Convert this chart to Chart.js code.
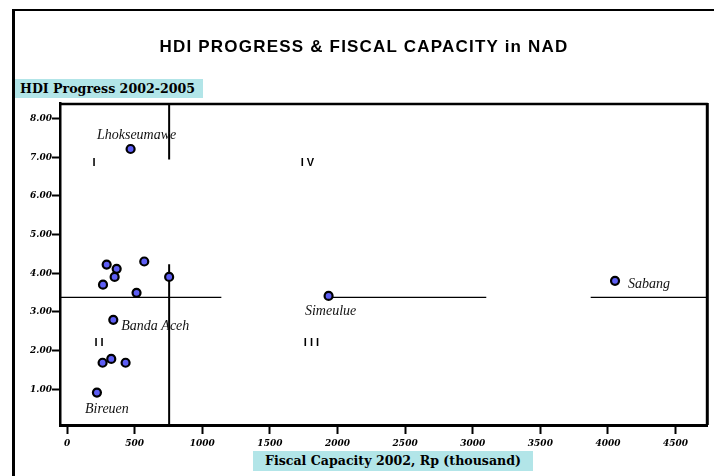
<!DOCTYPE html>
<html>
<head>
<meta charset="utf-8">
<script src="https://cdn.jsdelivr.net/npm/chart.js@4"></script>
<style>
  html, body { margin: 0; padding: 0; background: #fff; }
  #wrap { position: relative; width: 714px; height: 476px; overflow: hidden; background: #fff; }
  #c { position: absolute; left: 0; top: 0; }
  #frame { position: absolute; left: 12px; top: 9px; width: 720px; height: 480px;
           border-top: 2px solid #000; border-left: 3px solid #000; box-sizing: border-box; }
  .title { position: absolute; left: 0; width: 728px; top: 37px; text-align: center;
           font: bold 17px "Liberation Sans", Arial, sans-serif; color: #000; letter-spacing: 1.2px; }
  .axlab { position: absolute; background: #b2e5e8; color: #000;
           font: bold 12.6px "DejaVu Serif", serif; white-space: nowrap; box-sizing: border-box; }
  #ylab { left: 15px; top: 79px; width: 188px; height: 19px; line-height: 19px; padding-left: 5px; }
  #xlab { left: 253px; top: 451px; width: 280px; height: 20px; line-height: 20px; text-align: center; }
</style>
</head>
<body>
<div id="wrap">
  <canvas id="c" width="714" height="476"></canvas>
  <div id="frame"></div>
  <div class="title">HDI PROGRESS &amp; FISCAL CAPACITY in NAD</div>
  <div class="axlab" id="ylab">HDI Progress 2002-2005</div>
  <div class="axlab" id="xlab">Fiscal Capacity 2002, Rp (thousand)</div>
</div>
<script>
// ---- data ----
const districtNames = ['Lhokseumawe','','','','','','','','Banda Aceh','','','','Bireuen','Simeulue','Sabang'];
const fiscalCapacity = [470, 293, 367, 571, 352, 266, 755, 514, 342, 327, 263, 433, 221, 1934, 4052];
const hdiProgress   = [7.21, 4.22, 4.11, 4.30, 3.90, 3.70, 3.90, 3.49, 2.79, 1.78, 1.68, 1.68, 0.91, 3.41, 3.80];

const xTicks = [0, 500, 1000, 1500, 2000, 2500, 3000, 3500, 4000, 4500];
const yTicks = [1, 2, 3, 4, 5, 6, 7, 8];

// reference (threshold) lines
const hdiThreshold = 3.37;
const hdiLineSegments = [[-52, 1141], [1934, 3100], [3872, 4740]];
const fiscalThreshold = 755;
const fiscalLineSegments = [[6.94, 8.4], [0.07, 4.23]];

// quadrant labels
const quadrantNames = ['I', 'IV', 'II', 'III'];
const quadrantFiscal = [199, 1777, 236, 1807];
const quadrantHdi = [6.85, 6.85, 2.20, 2.20];

// ---- styles (label placement offsets in px) ----
const labelStyle = {
  'Lhokseumawe': {dx: 6, dy: -14, align: 'center'},
  'Banda Aceh': {dx: 8, dy: 6, align: 'left'},
  'Bireuen': {dx: 10, dy: 17, align: 'center'},
  'Simeulue': {dx: 2, dy: 15, align: 'center'},
  'Sabang': {dx: 13, dy: 3, align: 'left'}
};

const datasets = [];
hdiLineSegments.forEach(seg => {
  datasets.push({ type: 'line', data: seg.map(x => ({x, y: hdiThreshold})),
    borderColor: '#000', borderWidth: 1.3, pointRadius: 0, showLine: true, order: 2 });
});
fiscalLineSegments.forEach(seg => {
  datasets.push({ type: 'line', data: seg.map(y => ({x: fiscalThreshold, y})),
    borderColor: '#000', borderWidth: 2, pointRadius: 0, showLine: true, order: 2 });
});
datasets.push({
  type: 'scatter',
  data: fiscalCapacity.map((x, i) => ({x, y: hdiProgress[i]})),
  backgroundColor: '#5e5ef4', borderColor: '#000', borderWidth: 2.2,
  pointRadius: 4, order: 1, isDistricts: true
});

const tickFont = { family: "'DejaVu Serif Condensed', 'DejaVu Serif', serif", size: 10, style: 'italic', weight: 'bold' };

const annotPlugin = {
  id: 'annot',
  afterDraw(chart) {
    const ctx = chart.ctx, ca = chart.chartArea;
    // plot frame top & right
    ctx.save();
    ctx.strokeStyle = '#000';
    ctx.lineWidth = 2.5;
    ctx.beginPath();
    ctx.moveTo(ca.left, ca.top + 1); ctx.lineTo(ca.right, ca.top + 1);
    ctx.stroke();
    ctx.lineWidth = 3;
    ctx.beginPath();
    ctx.moveTo(ca.right - 0.5, ca.top); ctx.lineTo(ca.right - 0.5, ca.bottom);
    ctx.stroke();
    // point labels
    const dsIndex = chart.data.datasets.findIndex(d => d.isDistricts);
    const meta = chart.getDatasetMeta(dsIndex);
    ctx.fillStyle = '#111';
    ctx.font = "italic 14px 'Liberation Serif', 'Times New Roman', serif";
    ctx.textBaseline = 'middle';
    districtNames.forEach((n, i) => {
      if (!n) return;
      const st = labelStyle[n];
      const el = meta.data[i];
      ctx.textAlign = st.align;
      ctx.fillText(n, el.x + st.dx, el.y + st.dy);
    });
    // quadrant labels
    const xs = chart.scales.x, ys = chart.scales.y;
    ctx.font = "bold 11px 'Liberation Sans', Arial, sans-serif";
    ctx.textAlign = 'center';
    ctx.letterSpacing = '3px';
    ctx.fillStyle = '#000';
    quadrantNames.forEach((q, i) => {
      ctx.fillText(q, xs.getPixelForValue(quadrantFiscal[i]) + 1.5, ys.getPixelForValue(quadrantHdi[i]));
    });
    ctx.restore();
  }
};

new Chart(document.getElementById('c'), {
  type: 'scatter',
  data: { datasets },
  options: {
    responsive: false,
    animation: false,
    devicePixelRatio: 1,
    layout: { padding: { left: 0, right: 5, top: 103, bottom: 0 } },
    plugins: { legend: { display: false }, tooltip: { enabled: false }, title: { display: false } },
    scales: {
      x: {
        type: 'linear', min: -52, max: 4738,
        afterFit(s) { s.height = 51; },
        afterBuildTicks(s) { s.ticks = xTicks.map(v => ({value: v})); },
        border: { display: true, color: '#000', width: 3 },
        grid: { display: true, drawOnChartArea: false, drawTicks: true, tickLength: 9, tickWidth: 2, tickColor: '#000', color: '#000' },
        ticks: { color: '#000', font: tickFont, padding: 3, maxRotation: 0, autoSkip: false,
                 callback: v => String(v) }
      },
      y: {
        type: 'linear', min: 0.07, max: 8.4,
        afterFit(s) { s.width = 60; },
        afterBuildTicks(s) { s.ticks = yTicks.map(v => ({value: v})); },
        border: { display: true, color: '#000', width: 2.5 },
        grid: { display: true, drawOnChartArea: false, drawTicks: true, tickLength: 8, tickWidth: 2, tickColor: '#000', color: '#000' },
        ticks: { color: '#000', font: tickFont, padding: 0, autoSkip: false,
                 callback: v => Number(v).toFixed(2) }
      }
    }
  },
  plugins: [annotPlugin]
});
</script>
</body>
</html>
